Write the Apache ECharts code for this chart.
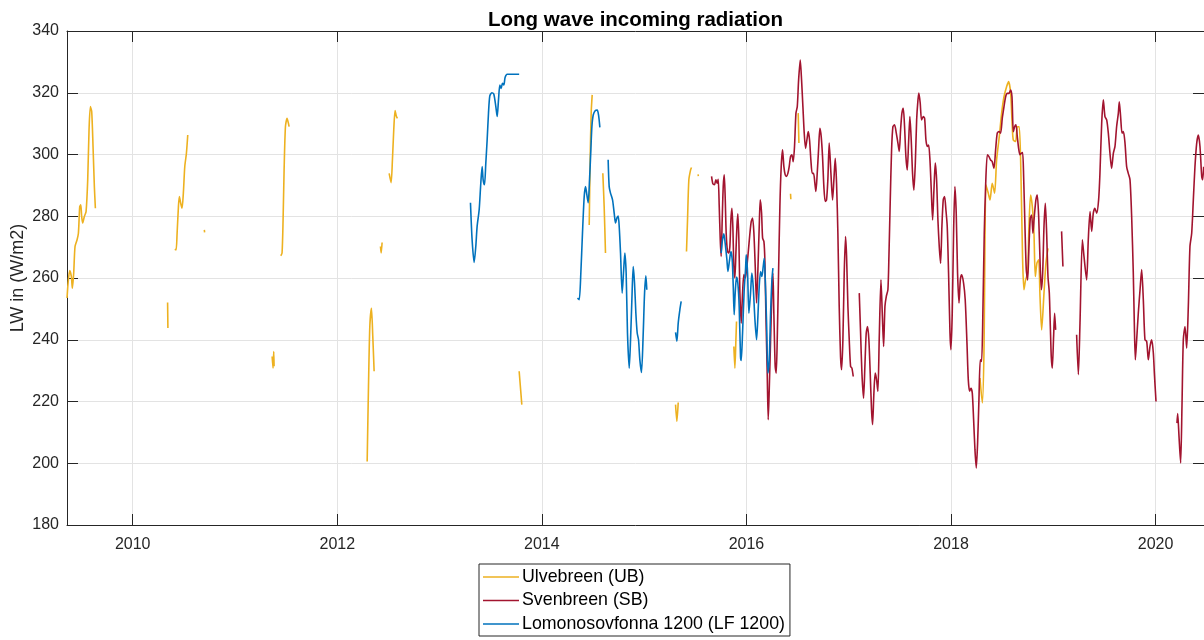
<!DOCTYPE html>
<html>
<head>
<meta charset="utf-8">
<title>Long wave incoming radiation</title>
<script src="https://cdn.jsdelivr.net/npm/echarts@6/dist/echarts.min.js"></script>
<style>
  html, body { margin: 0; padding: 0; background: #ffffff; }
  #chart { width: 1204px; height: 640px; }
</style>
</head>
<body>
<div id="chart"></div>
<script>
// Time axis in decimal years, value axis in W/m2
const xRange = [2009.3575, 2020.4733];
const tickYears = [2010, 2012, 2014, 2016, 2018, 2020];
const yTicks = [180, 200, 220, 240, 260, 280, 300, 320, 340];

// Ulvebreen (UB): measurement runs, each run is [year, LW]
const ulvebreen = [
  [[2009.358,253.5],[2009.368,258.3],[2009.384,262.4],[2009.400,260.5],[2009.410,256.7],[2009.423,261.6],[2009.436,270.2],[2009.456,272.4],[2009.469,274.5],[2009.482,283.1],[2009.492,283.7],[2009.501,279.9],[2009.511,277.8],[2009.527,279.9],[2009.544,281.5],[2009.560,291.8],[2009.573,308.0],[2009.586,315.5],[2009.599,313.9],[2009.612,302.6],[2009.625,289.6],[2009.635,282.6]],
  [[2010.341,252.1],[2010.344,243.8]],
  [[2010.411,269.3],[2010.424,269.1],[2010.434,274.5],[2010.447,283.2],[2010.456,286.4],[2010.469,284.2],[2010.482,282.6],[2010.495,287.5],[2010.509,296.1],[2010.525,300.4],[2010.538,306.3]],
  [[2010.700,275.6],[2010.703,274.8]],
  [[2011.363,234.6],[2011.372,230.8],[2011.379,236.2],[2011.382,231.4]],
  [[2011.447,267.2],[2011.460,268.1],[2011.470,278.8],[2011.480,295.0],[2011.493,309.0],[2011.509,311.7],[2011.529,309.0]],
  [[2012.292,200.6],[2012.305,224.9],[2012.318,244.3],[2012.334,250.2],[2012.347,241.1],[2012.360,229.8]],
  [[2012.422,270.2],[2012.429,268.1],[2012.438,271.5]],
  [[2012.507,293.9],[2012.526,290.9],[2012.539,298.2],[2012.552,308.0],[2012.565,314.2],[2012.578,312.3],[2012.588,311.7]],
  [[2013.778,229.8],[2013.804,219.0]],
  [[2014.463,277.2],[2014.472,298.3],[2014.482,313.4],[2014.492,319.3]],
  [[2014.596,293.9],[2014.609,283.2],[2014.622,268.1]],
  [[2015.307,219.0],[2015.320,213.6],[2015.333,219.7]],
  [[2015.414,268.6],[2015.424,278.8],[2015.437,291.8],[2015.454,295.0],[2015.463,295.8]],
  [[2015.527,293.6],[2015.530,293.0]],
  [[2015.877,237.8],[2015.887,230.8],[2015.897,240.0],[2015.903,245.9]],
  [[2016.431,287.3],[2016.434,285.5]],
  [[2016.506,313.4],[2016.513,303.7]],
  [[2018.283,227.6],[2018.306,219.5],[2018.322,235.7],[2018.342,290.2],[2018.364,287.5],[2018.381,285.3],[2018.403,290.7],[2018.426,287.5],[2018.446,298.3],[2018.472,305.8],[2018.495,313.4],[2018.518,318.7],[2018.544,322.0],[2018.563,323.6],[2018.583,319.8],[2018.599,309.0],[2018.609,304.7],[2018.632,304.2],[2018.648,309.0],[2018.667,309.0],[2018.684,292.9],[2018.700,265.9],[2018.713,256.2],[2018.729,259.4],[2018.749,261.6],[2018.762,276.7],[2018.778,286.9],[2018.795,283.1],[2018.811,274.5],[2018.824,260.5],[2018.840,264.8],[2018.857,265.9],[2018.870,254.0],[2018.886,243.2],[2018.909,255.1],[2018.928,264.8],[2018.948,269.6]]
];

// Svenbreen (SB)
const svenbreen = [
  [[2015.659,292.9],[2015.672,290.5],[2015.688,290.2],[2015.701,291.8],[2015.714,290.7],[2015.724,292.0],[2015.734,283.2],[2015.744,272.4],[2015.753,267.0],[2015.763,278.8],[2015.773,289.6],[2015.783,293.4],[2015.792,286.4],[2015.802,274.5],[2015.815,268.6],[2015.828,268.1],[2015.838,270.2],[2015.848,278.8],[2015.858,282.6],[2015.867,276.7],[2015.877,263.7],[2015.887,260.0],[2015.897,268.1],[2015.907,276.7],[2015.916,280.8],[2015.926,272.4],[2015.936,255.1],[2015.949,245.4],[2015.962,255.1],[2015.975,261.1],[2015.988,260.0],[2016.001,262.7],[2016.017,268.1],[2016.034,274.5],[2016.047,278.3],[2016.060,279.4],[2016.073,274.5],[2016.086,263.7],[2016.099,251.9],[2016.112,262.7],[2016.125,276.7],[2016.135,285.3],[2016.148,281.0],[2016.158,272.9],[2016.171,271.8],[2016.180,265.9],[2016.190,248.6],[2016.203,229.2],[2016.213,214.1],[2016.223,223.8],[2016.236,240.0],[2016.249,255.1],[2016.259,261.6],[2016.268,248.6],[2016.281,231.4],[2016.291,229.2],[2016.301,240.0],[2016.314,261.6],[2016.327,283.2],[2016.340,296.1],[2016.353,301.5],[2016.366,296.1],[2016.379,293.4],[2016.392,292.9],[2016.405,293.9],[2016.418,296.1],[2016.431,299.3],[2016.444,299.9],[2016.457,297.7],[2016.470,302.6],[2016.484,313.4],[2016.497,315.5],[2016.510,324.1],[2016.526,330.6],[2016.539,324.1],[2016.552,315.5],[2016.565,306.9],[2016.578,302.0],[2016.591,304.7],[2016.604,307.4],[2016.617,304.7],[2016.630,298.2],[2016.643,293.9],[2016.656,293.9],[2016.669,290.7],[2016.679,288.0],[2016.692,293.9],[2016.705,301.5],[2016.718,308.5],[2016.731,305.8],[2016.744,299.3],[2016.757,289.6],[2016.770,284.8],[2016.783,285.3],[2016.796,291.8],[2016.809,303.7],[2016.826,293.9],[2016.842,285.3],[2016.855,291.8],[2016.868,298.8],[2016.881,290.7],[2016.894,274.5],[2016.907,250.8],[2016.920,234.6],[2016.930,230.3],[2016.943,240.0],[2016.956,261.6],[2016.969,273.4],[2016.979,267.0],[2016.992,250.8],[2017.005,240.0],[2017.018,231.4],[2017.031,230.8],[2017.044,228.1]],
  [[2017.103,255.1],[2017.116,242.2],[2017.129,229.2],[2017.145,221.1],[2017.158,231.4],[2017.171,242.2],[2017.184,244.3],[2017.197,240.0],[2017.210,229.2],[2017.223,217.3],[2017.233,212.5],[2017.246,222.7],[2017.259,229.2],[2017.272,227.1],[2017.285,223.3],[2017.298,240.0],[2017.315,259.4],[2017.328,248.6],[2017.341,237.8],[2017.354,250.8],[2017.367,254.0],[2017.383,256.2],[2017.393,267.0],[2017.406,285.3],[2017.419,301.5],[2017.432,309.0],[2017.448,309.6],[2017.465,306.9],[2017.481,303.7],[2017.494,301.0],[2017.507,308.0],[2017.520,313.4],[2017.533,315.0],[2017.546,309.0],[2017.559,299.3],[2017.572,295.0],[2017.585,303.7],[2017.598,312.3],[2017.611,304.7],[2017.624,293.9],[2017.637,288.5],[2017.651,297.2],[2017.664,311.2],[2017.677,317.7],[2017.686,319.9],[2017.699,316.6],[2017.712,311.2],[2017.729,312.3],[2017.742,311.7],[2017.755,304.7],[2017.768,302.6],[2017.781,303.1],[2017.794,298.3],[2017.807,288.5],[2017.820,278.8],[2017.833,288.5],[2017.846,297.2],[2017.859,291.8],[2017.872,278.8],[2017.885,270.2],[2017.898,264.8],[2017.911,276.7],[2017.924,285.3],[2017.937,286.4],[2017.950,282.1],[2017.963,276.7],[2017.976,261.6],[2017.990,242.2],[2017.999,236.8],[2018.012,248.6],[2018.025,274.5],[2018.038,289.6],[2018.051,281.0],[2018.064,261.6],[2018.078,251.9],[2018.091,259.4],[2018.104,261.0],[2018.123,258.3],[2018.139,252.9],[2018.156,238.9],[2018.169,227.0],[2018.182,223.3],[2018.195,224.3],[2018.208,222.7],[2018.221,214.1],[2018.234,204.4],[2018.247,198.5],[2018.260,206.6],[2018.273,220.6],[2018.286,233.5],[2018.299,233.0],[2018.312,249.7],[2018.325,274.5],[2018.338,289.6],[2018.355,299.9],[2018.371,299.3],[2018.387,298.2],[2018.403,297.7],[2018.420,295.5],[2018.436,301.5],[2018.452,306.9],[2018.469,307.4],[2018.485,306.9],[2018.501,311.7],[2018.518,315.5],[2018.534,318.7],[2018.550,319.8],[2018.566,319.8],[2018.583,320.9],[2018.596,318.7],[2018.609,307.4],[2018.622,309.0],[2018.635,309.6],[2018.648,305.8],[2018.661,302.0],[2018.674,299.9],[2018.687,300.4],[2018.700,300.6],[2018.710,292.9],[2018.723,276.7],[2018.736,262.6],[2018.749,259.4],[2018.762,270.2],[2018.775,279.4],[2018.788,280.4],[2018.801,274.5],[2018.814,279.9],[2018.830,285.3],[2018.843,286.9],[2018.857,279.9],[2018.870,265.9],[2018.883,256.2],[2018.896,261.6],[2018.909,276.7],[2018.922,284.2],[2018.935,274.5],[2018.948,260.5],[2018.961,255.1],[2018.971,244.3],[2018.980,234.6],[2018.990,230.8],[2019.003,241.1],[2019.013,248.6],[2019.023,243.2]],
  [[2019.081,275.1],[2019.094,263.7]],
  [[2019.228,241.6],[2019.245,228.7],[2019.261,245.4],[2019.284,272.4],[2019.300,267.0],[2019.326,259.4],[2019.342,272.4],[2019.359,281.5],[2019.375,275.1],[2019.391,281.0],[2019.407,282.6],[2019.424,281.0],[2019.443,285.3],[2019.456,293.9],[2019.473,310.1],[2019.489,317.7],[2019.505,312.3],[2019.522,311.2],[2019.538,306.9],[2019.554,300.4],[2019.570,295.5],[2019.587,300.4],[2019.603,302.6],[2019.619,309.0],[2019.636,313.4],[2019.645,317.1],[2019.658,312.3],[2019.672,306.9],[2019.685,307.4],[2019.701,303.7],[2019.717,296.1],[2019.733,293.9],[2019.750,291.8],[2019.766,279.9],[2019.782,261.6],[2019.792,245.4],[2019.802,233.5],[2019.815,240.0],[2019.831,248.6],[2019.848,256.2],[2019.864,262.7],[2019.880,253.0],[2019.896,240.0],[2019.913,239.5],[2019.929,233.5],[2019.945,237.8],[2019.962,240.0],[2019.978,235.7],[2019.988,229.2],[2020.004,220.0]],
  [[2020.209,213.0],[2020.216,216.1],[2020.229,208.7],[2020.245,200.1],[2020.258,218.4],[2020.271,240.0],[2020.288,244.3],[2020.304,237.3],[2020.320,250.8],[2020.336,270.2],[2020.353,274.5],[2020.369,285.3],[2020.385,296.1],[2020.402,303.7],[2020.418,306.3],[2020.434,302.6],[2020.451,292.9],[2020.460,291.8],[2020.470,296.0]]
];

// Lomonosovfonna 1200 (LF 1200)
const lomonosovfonna = [
  [[2013.302,284.4],[2013.318,272.4],[2013.338,265.0],[2013.354,270.2],[2013.367,276.7],[2013.387,282.1],[2013.403,290.7],[2013.416,296.1],[2013.426,291.8],[2013.439,290.2],[2013.452,297.2],[2013.465,304.7],[2013.478,313.3],[2013.491,319.0],[2013.511,320.0],[2013.530,319.6],[2013.550,315.5],[2013.563,312.3],[2013.576,317.7],[2013.589,322.5],[2013.602,321.4],[2013.615,323.1],[2013.628,322.5],[2013.641,325.0],[2013.661,326.0],[2013.719,326.0],[2013.778,326.0]],
  [[2014.348,253.5],[2014.365,253.0],[2014.381,261.6],[2014.397,274.5],[2014.414,286.4],[2014.427,289.6],[2014.440,286.9],[2014.453,284.4],[2014.466,291.8],[2014.479,301.5],[2014.489,309.0],[2014.502,312.8],[2014.521,314.2],[2014.541,314.4],[2014.554,312.8],[2014.567,308.8]],
  [[2014.648,298.3],[2014.658,289.6],[2014.671,287.5],[2014.691,285.3],[2014.707,281.0],[2014.720,277.8],[2014.733,279.4],[2014.746,280.1],[2014.756,276.7],[2014.769,268.1],[2014.785,255.1],[2014.798,261.6],[2014.811,268.1],[2014.824,261.6],[2014.837,242.2],[2014.854,230.8],[2014.867,240.0],[2014.880,253.0],[2014.893,263.7],[2014.906,258.3],[2014.919,248.6],[2014.932,242.2],[2014.945,240.0],[2014.958,233.5],[2014.974,229.4],[2014.991,242.2],[2015.004,255.1],[2015.017,260.7],[2015.026,256.2]],
  [[2015.307,242.4],[2015.320,239.5],[2015.333,245.4],[2015.349,249.7],[2015.362,252.4]],
  [[2015.753,268.1],[2015.766,272.4],[2015.779,274.3],[2015.792,271.3],[2015.809,265.9],[2015.819,262.1],[2015.835,265.9],[2015.848,268.6],[2015.861,265.9],[2015.871,257.3],[2015.880,248.1],[2015.890,255.1],[2015.903,260.3],[2015.916,258.3],[2015.929,250.8],[2015.942,234.6],[2015.949,233.3],[2015.962,242.2],[2015.978,256.2],[2015.991,262.7],[2015.998,267.5],[2016.011,261.6],[2016.024,248.6],[2016.040,255.1],[2016.053,261.6],[2016.066,257.3],[2016.083,246.5],[2016.099,240.0],[2016.112,247.5],[2016.125,257.3],[2016.138,262.1],[2016.151,260.5],[2016.164,263.7],[2016.174,266.4],[2016.184,259.4],[2016.197,245.4],[2016.210,229.2],[2016.223,233.5],[2016.236,248.6],[2016.249,259.4],[2016.259,263.2]]
];

// Runs are joined into one series with an empty value between them,
// so the line breaks wherever the record has a gap.
function joinRuns(runs) {
  const out = [];
  runs.forEach((run, i) => {
    if (i > 0) {
      const prev = runs[i - 1];
      out.push([(prev[prev.length - 1][0] + run[0][0]) / 2, '-']);
    }
    run.forEach(p => out.push(p));
  });
  return out;
}

const FONT = "'Liberation Sans', Arial, Helvetica, sans-serif";
const AXIS_COLOR = '#262626';
const GRID_COLOR = '#e3e3e3';

const chart = echarts.init(document.getElementById('chart'), null, { renderer: 'canvas' });

const baseX = {
  type: 'value',
  min: xRange[0],
  max: xRange[1],
  axisLine: { show: true, onZero: false, lineStyle: { color: AXIS_COLOR, width: 1 } },
  axisTick: { show: true, inside: true, length: 11, customValues: tickYears, lineStyle: { color: AXIS_COLOR } }
};
const baseY = {
  type: 'value',
  min: yTicks[0],
  max: yTicks[yTicks.length - 1],
  interval: 20,
  axisLine: { show: true, onZero: false, lineStyle: { color: AXIS_COLOR, width: 1 } },
  axisTick: { show: true, inside: true, length: 11, lineStyle: { color: AXIS_COLOR } }
};

chart.setOption({
  animation: false,
  backgroundColor: '#ffffff',
  title: {
    text: 'Long wave incoming radiation',
    left: 630.5,
    textAlign: 'center',
    top: 5,
    textStyle: { fontFamily: FONT, fontSize: 20.5, fontWeight: 'bold', color: '#000000' }
  },
  grid: { left: 67, right: 0, top: 31, bottom: 115, containLabel: false, outerBoundsMode: 'none' },
  legend: {
    orient: 'vertical',
    left: 479,
    top: 564,
    icon: 'rect',
    itemWidth: 36,
    itemHeight: 1.6,
    itemGap: 5.5,
    padding: [4, 5, 3, 4],
    borderColor: AXIS_COLOR,
    borderWidth: 1,
    backgroundColor: '#ffffff',
    textStyle: { fontFamily: FONT, fontSize: 17.8, color: '#000000', padding: [0, 0, 0, -2] },
    data: ['Ulvebreen (UB)', 'Svenbreen (SB)', 'Lomonosovfonna 1200 (LF 1200)']
  },
  xAxis: [
    Object.assign({}, baseX, {
      position: 'bottom',
      axisLabel: {
        show: true, customValues: tickYears, formatter: v => String(v),
        color: AXIS_COLOR, fontFamily: FONT, fontSize: 16, margin: 12
      },
      splitLine: { show: true, lineStyle: { color: GRID_COLOR, width: 1 } }
    }),
    Object.assign({}, baseX, {
      position: 'top',
      axisLabel: { show: false },
      splitLine: { show: false }
    })
  ],
  yAxis: [
    Object.assign({}, baseY, {
      position: 'left',
      name: 'LW in (W/m2)',
      nameLocation: 'middle',
      nameGap: 40,
      nameMoveOverlap: false,
      nameTextStyle: { fontFamily: FONT, fontSize: 18, color: AXIS_COLOR },
      axisLabel: { show: true, color: AXIS_COLOR, fontFamily: FONT, fontSize: 16, margin: 8 },
      splitLine: { show: true, lineStyle: { color: GRID_COLOR, width: 1 } }
    }),
    Object.assign({}, baseY, {
      position: 'right',
      axisLabel: { show: false },
      splitLine: { show: false }
    })
  ],
  series: [
    { name: 'Ulvebreen (UB)', color: '#EDB120', data: joinRuns(ulvebreen) },
    { name: 'Svenbreen (SB)', color: '#A2142F', data: joinRuns(svenbreen) },
    { name: 'Lomonosovfonna 1200 (LF 1200)', color: '#0072BD', data: joinRuns(lomonosovfonna) }
  ].map(s => ({
    name: s.name,
    type: 'line',
    xAxisIndex: 0,
    yAxisIndex: 0,
    data: s.data,
    symbol: 'none',
    showSymbol: false,
    connectNulls: false,
    smooth: 0.25,
    clip: true,
    lineStyle: { color: s.color, width: 1.6 },
    itemStyle: { color: s.color }
  }))
});
</script>
</body>
</html>
